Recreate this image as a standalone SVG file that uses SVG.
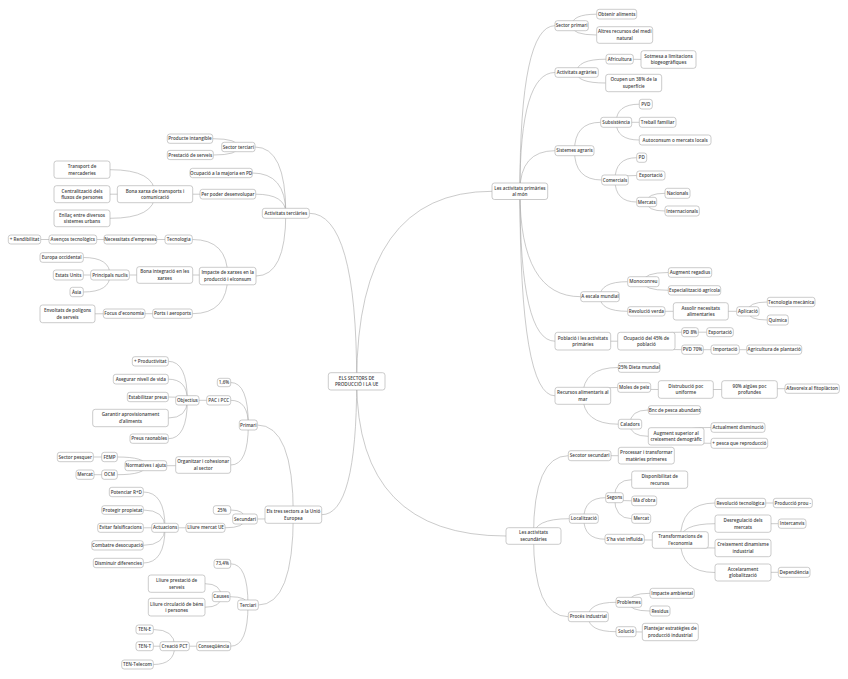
<svg xmlns="http://www.w3.org/2000/svg" width="848" height="679" viewBox="0 0 848 679">
<style>
.b{fill:#fff;stroke:#a8a8a8;stroke-width:0.6}
.t{font-family:"Open Sans","Liberation Sans",sans-serif;font-size:4.6px;font-weight:600;fill:#444;text-anchor:middle}
.c{fill:none;stroke:#a8a8a8;stroke-width:0.6}
</style>
<rect width="848" height="679" fill="#fff"/>
<g id="connectors" class="c">
<path d="M356.7,381.3 Q356.7,191.3 492,191.3"/>
<path d="M356.7,381.3 Q356.7,536 506,536"/>
<path d="M356.7,381.3 Q356.7,213.3 309.3,213.3"/>
<path d="M356.7,381.3 Q356.7,514.7 321.7,514.7"/>
<path d="M285.8,213.3 Q285.8,147 255,147"/>
<path d="M285.8,213.3 Q285.8,173 252.3,173"/>
<path d="M285.8,213.3 Q285.8,194.2 255.7,194.2"/>
<path d="M285.8,213.3 Q285.8,276 256,276"/>
<path d="M238.4,147 Q238.4,138.7 212.7,138.7"/>
<path d="M238.4,147 Q238.4,155 213.3,155"/>
<path d="M227.9,194.2 L192.7,194.2"/>
<path d="M155,194.2 Q155,169.7 110,169.7"/>
<path d="M155,194.2 L110,194.2"/>
<path d="M155,194.2 Q155,218.3 110,218.3"/>
<path d="M227.7,276 Q227.7,239.5 192.3,239.5"/>
<path d="M227.7,276 Q227.7,275 192.7,275"/>
<path d="M227.7,276 Q227.7,313.7 192.3,313.7"/>
<path d="M178.7,239.5 L156.7,239.5"/>
<path d="M130.4,239.5 L96.7,239.5"/>
<path d="M72.9,239.5 L40.7,239.5"/>
<path d="M164.7,275 L129.3,275"/>
<path d="M110,275 Q110,257.5 83.3,257.5"/>
<path d="M110,275 L83.3,275"/>
<path d="M110,275 Q110,292 83.3,292"/>
<path d="M172.5,313.7 L145,313.7"/>
<path d="M124.2,313.7 L95,313.8"/>
<path d="M293.3,514.7 Q293.3,425 257.3,425"/>
<path d="M293.3,514.7 Q293.3,519 257.3,519"/>
<path d="M293.3,514.7 Q293.3,605 258.3,605"/>
<path d="M248.3,425 Q248.3,382.5 230.7,382.5"/>
<path d="M248.3,425 Q248.3,400.3 230.7,400.3"/>
<path d="M248.3,425 Q248.3,465 230.7,465"/>
<path d="M218.7,400.3 L199,400.3"/>
<path d="M187.3,400.3 Q187.3,361.3 168.3,361.3"/>
<path d="M187.3,400.3 Q187.3,379.2 168.3,379.2"/>
<path d="M187.3,400.3 Q187.3,397 168.3,397"/>
<path d="M187.3,400.3 Q187.3,418 168.3,418"/>
<path d="M187.3,400.3 Q187.3,438.7 168.3,438.7"/>
<path d="M203.2,465 Q203.2,465.7 166.7,465.7"/>
<path d="M145.8,465.7 Q145.8,457 117.3,457"/>
<path d="M145.8,465.7 Q145.8,474.7 117.3,474.7"/>
<path d="M109.5,457 L93.3,457"/>
<path d="M109.5,474.7 L94,474.7"/>
<path d="M245,519 Q245,510 230.7,510"/>
<path d="M245,519 Q245,527.8 225,527.8"/>
<path d="M205.5,527.8 L178.3,527.8"/>
<path d="M165,527.8 Q165,492 143.3,492"/>
<path d="M165,527.8 Q165,510 143.3,510"/>
<path d="M165,527.8 L143.3,527.8"/>
<path d="M165,527.8 Q165,545.3 143.3,545.3"/>
<path d="M165,527.8 Q165,563 143.3,563"/>
<path d="M248,605 Q248,563.8 230.7,563.8"/>
<path d="M248,605 Q248,596.7 230,596.7"/>
<path d="M248,605 Q248,646.2 230.7,646.2"/>
<path d="M221.2,596.7 Q221.2,583.7 205,583.7"/>
<path d="M221.2,596.7 Q221.2,607.2 205,607.2"/>
<path d="M213.7,646.2 L189.3,646.2"/>
<path d="M174.7,646.2 Q174.7,629.5 153.3,629.5"/>
<path d="M174.7,646.2 L153.3,646.2"/>
<path d="M174.7,646.2 Q174.7,664.5 153.3,664.5"/>
<path d="M519.9,191.3 Q519.9,25.7 555,25.7"/>
<path d="M519.9,191.3 Q519.9,72.5 555,72.5"/>
<path d="M519.9,191.3 Q519.9,150.7 555,150.7"/>
<path d="M519.9,191.3 Q519.9,296.7 580.7,296.7"/>
<path d="M519.9,191.3 Q519.9,341.2 555,341.2"/>
<path d="M519.9,191.3 Q519.9,395.8 555,395.8"/>
<path d="M571.7,25.7 Q571.7,14.2 596.7,14.2"/>
<path d="M571.7,25.7 Q571.7,35 596.7,35"/>
<path d="M576.7,72.5 Q576.7,59.2 606,59.2"/>
<path d="M576.7,72.5 Q576.7,83 605.7,83"/>
<path d="M619.7,59.2 L641,59.4"/>
<path d="M574.5,150.7 Q574.5,122.3 600.7,122.3"/>
<path d="M574.5,150.7 Q574.5,180 601.7,180"/>
<path d="M616.2,122.3 Q616.2,104.2 639.3,104.2"/>
<path d="M616.2,122.3 L639.3,122.3"/>
<path d="M616.2,122.3 Q616.2,140 639.3,140"/>
<path d="M615,180 Q615,157.7 636.7,157.7"/>
<path d="M615,180 Q615,175.5 636.7,175.5"/>
<path d="M615,180 Q615,202 636.7,202"/>
<path d="M646.7,202 Q646.7,193.3 665,193.3"/>
<path d="M646.7,202 Q646.7,211 665,211"/>
<path d="M600,296.7 Q600,281.7 627.7,281.7"/>
<path d="M600,296.7 Q600,311.3 627.7,311.3"/>
<path d="M643.3,281.7 Q643.3,272.5 668.3,272.5"/>
<path d="M643.3,281.7 Q643.3,290.3 668.3,290.3"/>
<path d="M646.3,311.3 L673.3,311.3"/>
<path d="M700.8,311.3 L736.7,311.3"/>
<path d="M747.8,311.3 Q747.8,302 767.3,302"/>
<path d="M747.8,311.3 Q747.8,320 767.3,320"/>
<path d="M582.8,341.2 L617.7,341.2"/>
<path d="M646.3,341.2 Q646.3,332.2 681.7,332.2"/>
<path d="M646.3,341.2 Q646.3,349.7 681.7,349.7"/>
<path d="M690,332.2 L706.7,332.2"/>
<path d="M692.5,349.7 L711,349.7"/>
<path d="M725.2,349.7 L746.7,349.7"/>
<path d="M582.8,395.8 Q582.8,367.5 618.3,367.5"/>
<path d="M582.8,395.8 Q582.8,387.5 617.7,387.5"/>
<path d="M582.8,395.8 Q582.8,424.2 618.3,424.2"/>
<path d="M634.2,387.5 Q634.2,389.5 658.3,389.5"/>
<path d="M685.8,389.5 L721.7,389.5"/>
<path d="M749.5,389.5 Q749.5,388.7 785,388.7"/>
<path d="M630,424.2 Q630,410 648.3,410"/>
<path d="M630,424.2 Q630,436.3 648.3,436.3"/>
<path d="M676.2,436.3 Q676.2,427.5 711,427.5"/>
<path d="M676.2,436.3 Q676.2,443.3 711,443.3"/>
<path d="M533.5,536 Q533.5,455.7 568.3,455.7"/>
<path d="M533.5,536 Q533.5,518.7 569.3,518.7"/>
<path d="M533.5,536 Q533.5,616.7 568.3,616.7"/>
<path d="M589.7,455.7 L618.3,455.7"/>
<path d="M583.8,518.7 Q583.8,497.7 605.7,497.7"/>
<path d="M583.8,518.7 Q583.8,539.2 605,539.2"/>
<path d="M614.5,497.7 Q614.5,479.7 631.7,479.7"/>
<path d="M614.5,497.7 Q614.5,500.8 631.7,500.8"/>
<path d="M614.5,497.7 Q614.5,518.7 631.7,518.7"/>
<path d="M624.7,539.2 Q624.7,540 652.3,540"/>
<path d="M680.3,540 Q680.3,503 715,503"/>
<path d="M680.3,540 Q680.3,523.7 715,523.7"/>
<path d="M680.3,540 Q680.3,548 715,548"/>
<path d="M680.3,540 Q680.3,572.5 715,572.5"/>
<path d="M740.3,503 L773.3,503"/>
<path d="M743,523.7 L778.3,523.7"/>
<path d="M743,572.5 L778.3,572.3"/>
<path d="M588.3,616.7 Q588.3,602.3 616,602.3"/>
<path d="M588.3,616.7 Q588.3,631.7 616,631.7"/>
<path d="M628.8,602.3 Q628.8,593.3 650,593.3"/>
<path d="M628.8,602.3 Q628.8,611 650,611"/>
<path d="M626,631.7 L642.3,632"/>
</g>
<g id="center"><rect class="b" x="328.3" y="372.7" width="56.7" height="17.3" rx="2.5"/><text class="t"><tspan x="356.65" y="379.7">ELS SECTORS DE</tspan><tspan x="356.65" y="386.2">PRODUCCIÓ I LA UE</tspan></text></g>
<g id="terc"><rect class="b" x="262.3" y="208.3" width="47" height="10" rx="2.5"/><text class="t" x="285.8" y="214.9">Activitats terciàries</text></g>
<g id="sterc"><rect class="b" x="221.7" y="142.3" width="33.3" height="9.4" rx="2.5"/><text class="t" x="238.35" y="148.6">Sector terciari</text></g>
<g id="prod"><rect class="b" x="167.3" y="134" width="45.4" height="9.3" rx="2.5"/><text class="t" x="190" y="140.25">Producte intangible</text></g>
<g id="prest"><rect class="b" x="167.3" y="150.4" width="46" height="9.2" rx="2.5"/><text class="t" x="190.3" y="156.6">Prestació de serveis</text></g>
<g id="ocup"><rect class="b" x="190" y="168.3" width="62.3" height="9.4" rx="2.5"/><text class="t" x="221.15" y="174.6">Ocupació a la majoria en PD</text></g>
<g id="perpoder"><rect class="b" x="200" y="189.3" width="55.7" height="9.7" rx="2.5"/><text class="t" x="227.85" y="195.75">Per poder desenvolupar</text></g>
<g id="bona"><rect class="b" x="117.3" y="185.7" width="75.4" height="17" rx="2.5"/><text class="t"><tspan x="155" y="192.55">Bona xarxa de transports i</tspan><tspan x="155" y="199.05">comunicació</tspan></text></g>
<g id="transp"><rect class="b" x="54" y="161" width="56" height="17.3" rx="2.5"/><text class="t"><tspan x="82" y="168">Transport de</tspan><tspan x="82" y="174.5">mercaderies</tspan></text></g>
<g id="centr"><rect class="b" x="54" y="185.7" width="56" height="17" rx="2.5"/><text class="t"><tspan x="82" y="192.55">Centralització dels</tspan><tspan x="82" y="199.05">fluxos de persones</tspan></text></g>
<g id="enll"><rect class="b" x="54" y="210" width="56" height="16.7" rx="2.5"/><text class="t"><tspan x="82" y="216.7">Enllaç entre diversos</tspan><tspan x="82" y="223.2">sistemes urbans</tspan></text></g>
<g id="impacte"><rect class="b" x="199.3" y="267.3" width="56.7" height="17.5" rx="2.5"/><text class="t"><tspan x="227.65" y="274.4">Impacte de xarxes en la</tspan><tspan x="227.65" y="280.9">producció i elconsum</tspan></text></g>
<g id="tecno"><rect class="b" x="165" y="235" width="27.3" height="9" rx="2.5"/><text class="t" x="178.65" y="241.1">Tecnologia</text></g>
<g id="necess"><rect class="b" x="104" y="235" width="52.7" height="9" rx="2.5"/><text class="t" x="130.35" y="241.1">Necessitats d'empreses</text></g>
<g id="avenc"><rect class="b" x="49" y="235" width="47.7" height="9" rx="2.5"/><text class="t" x="72.85" y="241.1">Avenços tecnològics</text></g>
<g id="rend"><rect class="b" x="8.3" y="235" width="32.4" height="9" rx="2.5"/><text class="t" x="24.5" y="241.1">+ Rendibilitat</text></g>
<g id="bonaint"><rect class="b" x="136.7" y="266.7" width="56" height="16.6" rx="2.5"/><text class="t"><tspan x="164.7" y="273.35">Bona integració en les</tspan><tspan x="164.7" y="279.85">xarxes</tspan></text></g>
<g id="nuclis"><rect class="b" x="90.7" y="270" width="38.6" height="10" rx="2.5"/><text class="t" x="110" y="276.6">Principals nuclis</text></g>
<g id="europa"><rect class="b" x="40" y="252.7" width="43.3" height="9.6" rx="2.5"/><text class="t" x="61.65" y="259.1">Europa occidental</text></g>
<g id="eua"><rect class="b" x="53.3" y="270" width="30" height="10" rx="2.5"/><text class="t" x="68.3" y="276.6">Estats Units</text></g>
<g id="asia"><rect class="b" x="70" y="287.3" width="13.3" height="9.4" rx="2.5"/><text class="t" x="76.65" y="293.6">Àsia</text></g>
<g id="ports"><rect class="b" x="152.7" y="309" width="39.6" height="9.3" rx="2.5"/><text class="t" x="172.5" y="315.25">Ports i aeroports</text></g>
<g id="focus"><rect class="b" x="103.3" y="309" width="41.7" height="9.3" rx="2.5"/><text class="t" x="124.15" y="315.25">Focus d'economia</text></g>
<g id="envolt"><rect class="b" x="40" y="305" width="55" height="17.7" rx="2.5"/><text class="t"><tspan x="67.5" y="312.2">Envoltats de polígons</tspan><tspan x="67.5" y="318.7">de serveis</tspan></text></g>
<g id="tres"><rect class="b" x="265" y="506" width="56.7" height="17.3" rx="2.5"/><text class="t"><tspan x="293.35" y="513">Els tres sectors a la Unió</tspan><tspan x="293.35" y="519.5">Europea</tspan></text></g>
<g id="primari"><rect class="b" x="239.3" y="420" width="18" height="10" rx="2.5"/><text class="t" x="248.3" y="426.6">Primari</text></g>
<g id="n16"><rect class="b" x="217.3" y="378.3" width="13.4" height="8.4" rx="2.5"/><text class="t" x="224" y="384.1">1,6%</text></g>
<g id="pac"><rect class="b" x="206.7" y="395.7" width="24" height="9.3" rx="2.5"/><text class="t" x="218.7" y="401.95">PAC i PCC</text></g>
<g id="obj"><rect class="b" x="175.7" y="395.7" width="23.3" height="9.3" rx="2.5"/><text class="t" x="187.35" y="401.95">Objectius</text></g>
<g id="productiv"><rect class="b" x="132.3" y="356.7" width="36" height="9.3" rx="2.5"/><text class="t" x="150.3" y="362.95">+ Productivitat</text></g>
<g id="aseg"><rect class="b" x="113.3" y="374.3" width="55" height="9.7" rx="2.5"/><text class="t" x="140.8" y="380.75">Asegurar nivell de vida</text></g>
<g id="estab"><rect class="b" x="127.3" y="392.3" width="41" height="9.4" rx="2.5"/><text class="t" x="147.8" y="398.6">Estabilitzar preus</text></g>
<g id="garant"><rect class="b" x="92.7" y="409.3" width="75.6" height="17.4" rx="2.5"/><text class="t"><tspan x="130.5" y="416.35">Garantir aprovisionament</tspan><tspan x="130.5" y="422.85">d'aliments</tspan></text></g>
<g id="preus"><rect class="b" x="130" y="434" width="38.3" height="9.3" rx="2.5"/><text class="t" x="149.15" y="440.25">Preus raonables</text></g>
<g id="organ"><rect class="b" x="175.7" y="456.7" width="55" height="16.6" rx="2.5"/><text class="t"><tspan x="203.2" y="463.35">Organitzar i cohesionar</tspan><tspan x="203.2" y="469.85">al sector</tspan></text></g>
<g id="norm"><rect class="b" x="125" y="460.7" width="41.7" height="10" rx="2.5"/><text class="t" x="145.85" y="467.3">Normatives i ajuts</text></g>
<g id="femp"><rect class="b" x="101.7" y="452.3" width="15.6" height="9.4" rx="2.5"/><text class="t" x="109.5" y="458.6">FEMP</text></g>
<g id="pesq"><rect class="b" x="57.3" y="452.3" width="36" height="9.4" rx="2.5"/><text class="t" x="75.3" y="458.6">Sector pesquer</text></g>
<g id="ocm"><rect class="b" x="101.7" y="470" width="15.6" height="9.3" rx="2.5"/><text class="t" x="109.5" y="476.25">OCM</text></g>
<g id="mercat1"><rect class="b" x="76" y="470" width="18" height="9.3" rx="2.5"/><text class="t" x="85" y="476.25">Mercat</text></g>
<g id="secund"><rect class="b" x="232.7" y="514" width="24.6" height="10" rx="2.5"/><text class="t" x="245" y="520.6">Secundari</text></g>
<g id="n25"><rect class="b" x="213.3" y="505.7" width="17.4" height="8.6" rx="2.5"/><text class="t" x="222" y="511.6">25%</text></g>
<g id="lliure"><rect class="b" x="186" y="523.3" width="39" height="9" rx="2.5"/><text class="t" x="205.5" y="529.4">Lliure mercat UE</text></g>
<g id="actu"><rect class="b" x="151.7" y="523.3" width="26.6" height="9" rx="2.5"/><text class="t" x="165" y="529.4">Actuacions</text></g>
<g id="poten"><rect class="b" x="109.3" y="487.3" width="34" height="9.4" rx="2.5"/><text class="t" x="126.3" y="493.6">Potenciar R+D</text></g>
<g id="proteg"><rect class="b" x="101.7" y="505.7" width="41.6" height="8.6" rx="2.5"/><text class="t" x="122.5" y="511.6">Protegir propietat</text></g>
<g id="evitar"><rect class="b" x="97.7" y="523.3" width="45.6" height="9" rx="2.5"/><text class="t" x="120.5" y="529.4">Evitar falsificacions</text></g>
<g id="combat"><rect class="b" x="91.7" y="540.7" width="51.6" height="9.3" rx="2.5"/><text class="t" x="117.5" y="546.95">Combatre desocupació</text></g>
<g id="dismin"><rect class="b" x="93.3" y="558.3" width="50" height="9.4" rx="2.5"/><text class="t" x="118.3" y="564.6">Disminuir diferencies</text></g>
<g id="terciari"><rect class="b" x="237.7" y="600" width="20.6" height="10" rx="2.5"/><text class="t" x="248" y="606.6">Terciari</text></g>
<g id="n734"><rect class="b" x="214" y="559.3" width="16.7" height="9" rx="2.5"/><text class="t" x="222.35" y="565.4">73,4%</text></g>
<g id="causes"><rect class="b" x="212.3" y="591.7" width="17.7" height="10" rx="2.5"/><text class="t" x="221.15" y="598.3">Causes</text></g>
<g id="lprest"><rect class="b" x="148.3" y="575" width="56.7" height="17.3" rx="2.5"/><text class="t"><tspan x="176.65" y="582">Lliure prestació de</tspan><tspan x="176.65" y="588.5">serveis</tspan></text></g>
<g id="lcirc"><rect class="b" x="148.3" y="598.3" width="56.7" height="17.7" rx="2.5"/><text class="t"><tspan x="176.65" y="605.5">Lliure circulació de béns</tspan><tspan x="176.65" y="612">i persones</tspan></text></g>
<g id="conseq"><rect class="b" x="196.7" y="641.7" width="34" height="9" rx="2.5"/><text class="t" x="213.7" y="647.8">Conseqüència</text></g>
<g id="pct"><rect class="b" x="160" y="641.7" width="29.3" height="9" rx="2.5"/><text class="t" x="174.65" y="647.8">Creació PCT</text></g>
<g id="tene"><rect class="b" x="136" y="625" width="17.3" height="9" rx="2.5"/><text class="t" x="144.65" y="631.1">TEN-E</text></g>
<g id="tent"><rect class="b" x="136" y="641.7" width="17.3" height="9" rx="2.5"/><text class="t" x="144.65" y="647.8">TEN-T</text></g>
<g id="tentel"><rect class="b" x="121.7" y="660" width="31.6" height="9" rx="2.5"/><text class="t" x="137.5" y="666.1">TEN-Telecom</text></g>
<g id="prim"><rect class="b" x="492" y="183" width="55.7" height="16.5" rx="2.5"/><text class="t"><tspan x="519.85" y="189.6">Les activitats primàries</tspan><tspan x="519.85" y="196.1">al món</tspan></text></g>
<g id="secprim"><rect class="b" x="555" y="20.7" width="33.3" height="10" rx="2.5"/><text class="t" x="571.65" y="27.3">Sector primari</text></g>
<g id="obten"><rect class="b" x="596.7" y="9.3" width="40" height="9.7" rx="2.5"/><text class="t" x="616.7" y="15.75">Obtenir aliments</text></g>
<g id="altres"><rect class="b" x="596.7" y="26.7" width="56" height="16.6" rx="2.5"/><text class="t"><tspan x="624.7" y="33.35">Altres recursos del medi</tspan><tspan x="624.7" y="39.85">natural</tspan></text></g>
<g id="agr"><rect class="b" x="555" y="67.7" width="43.3" height="9.6" rx="2.5"/><text class="t" x="576.65" y="74.1">Activitats agràries</text></g>
<g id="afric"><rect class="b" x="606" y="54.3" width="27.3" height="9.7" rx="2.5"/><text class="t" x="619.65" y="60.75">Africultura</text></g>
<g id="sotm"><rect class="b" x="641" y="50.7" width="55" height="17.6" rx="2.5"/><text class="t"><tspan x="668.5" y="57.85">Sotmesa a limitacions</tspan><tspan x="668.5" y="64.35">biogeogràfiques</tspan></text></g>
<g id="ocupen"><rect class="b" x="605.7" y="74.3" width="56" height="17.4" rx="2.5"/><text class="t"><tspan x="633.7" y="81.35">Ocupen un 38% de la</tspan><tspan x="633.7" y="87.85">superfície</tspan></text></g>
<g id="sist"><rect class="b" x="555" y="145.7" width="39" height="10" rx="2.5"/><text class="t" x="574.5" y="152.3">Sistemes agraris</text></g>
<g id="subs"><rect class="b" x="600.7" y="117.3" width="31" height="10" rx="2.5"/><text class="t" x="616.2" y="123.9">Subsistència</text></g>
<g id="pvd"><rect class="b" x="639.3" y="99.3" width="13" height="9.7" rx="2.5"/><text class="t" x="645.8" y="105.75">PVD</text></g>
<g id="treb"><rect class="b" x="639.3" y="117.3" width="36.7" height="10" rx="2.5"/><text class="t" x="657.65" y="123.9">Treball familiar</text></g>
<g id="auto"><rect class="b" x="639.3" y="135" width="71.7" height="10" rx="2.5"/><text class="t" x="675.15" y="141.6">Autoconsum o mercats locals</text></g>
<g id="comerc"><rect class="b" x="601.7" y="175" width="26.6" height="10" rx="2.5"/><text class="t" x="615" y="181.6">Comercials</text></g>
<g id="pd"><rect class="b" x="636.7" y="153" width="10" height="9.3" rx="2.5"/><text class="t" x="641.7" y="159.25">PD</text></g>
<g id="export1"><rect class="b" x="636.7" y="171" width="28.3" height="9" rx="2.5"/><text class="t" x="650.85" y="177.1">Exportació</text></g>
<g id="mercats"><rect class="b" x="636.7" y="197.3" width="20" height="9.4" rx="2.5"/><text class="t" x="646.7" y="203.6">Mercats</text></g>
<g id="nacion"><rect class="b" x="665" y="188.3" width="25" height="10" rx="2.5"/><text class="t" x="677.5" y="194.9">Nacionals</text></g>
<g id="intern"><rect class="b" x="665" y="206" width="34.3" height="10" rx="2.5"/><text class="t" x="682.15" y="212.6">Internacionals</text></g>
<g id="escala"><rect class="b" x="580.7" y="291.7" width="38.6" height="10" rx="2.5"/><text class="t" x="600" y="298.3">A escala mundial</text></g>
<g id="mono"><rect class="b" x="627.7" y="276.7" width="31.3" height="10" rx="2.5"/><text class="t" x="643.35" y="283.3">Monoconreu</text></g>
<g id="augreg"><rect class="b" x="668.3" y="267.7" width="43.4" height="9.6" rx="2.5"/><text class="t" x="690" y="274.1">Augment regadius</text></g>
<g id="espec"><rect class="b" x="668.3" y="285.7" width="52.4" height="9.3" rx="2.5"/><text class="t" x="694.5" y="291.95">Especialització agrícola</text></g>
<g id="revver"><rect class="b" x="627.7" y="306.7" width="37.3" height="9.3" rx="2.5"/><text class="t" x="646.35" y="312.95">Revolució verda</text></g>
<g id="assol"><rect class="b" x="673.3" y="302.7" width="55" height="17.3" rx="2.5"/><text class="t"><tspan x="700.8" y="309.7">Assolir necesitats</tspan><tspan x="700.8" y="316.2">alimentaries</tspan></text></g>
<g id="aplic"><rect class="b" x="736.7" y="306.7" width="22.3" height="9.3" rx="2.5"/><text class="t" x="747.85" y="312.95">Aplicació</text></g>
<g id="tecmec"><rect class="b" x="767.3" y="297.3" width="47.7" height="9.4" rx="2.5"/><text class="t" x="791.15" y="303.6">Tecnologia mecànica</text></g>
<g id="quim"><rect class="b" x="767.3" y="315" width="21" height="10" rx="2.5"/><text class="t" x="777.8" y="321.6">Química</text></g>
<g id="pobl"><rect class="b" x="555" y="332.3" width="55.7" height="17.7" rx="2.5"/><text class="t"><tspan x="582.85" y="339.5">Població i les activitats</tspan><tspan x="582.85" y="346">primàries</tspan></text></g>
<g id="ocup45"><rect class="b" x="617.7" y="332.3" width="57.3" height="17.7" rx="2.5"/><text class="t"><tspan x="646.35" y="339.5">Ocupació del 45% de</tspan><tspan x="646.35" y="346">població</tspan></text></g>
<g id="pd8"><rect class="b" x="681.7" y="327.7" width="16.6" height="9" rx="2.5"/><text class="t" x="690" y="333.8">PD 8%</text></g>
<g id="export2"><rect class="b" x="706.7" y="327.7" width="26.6" height="9" rx="2.5"/><text class="t" x="720" y="333.8">Exportació</text></g>
<g id="pvd70"><rect class="b" x="681.7" y="345" width="21.6" height="9.3" rx="2.5"/><text class="t" x="692.5" y="351.25">PVD 70%</text></g>
<g id="import"><rect class="b" x="711" y="345" width="28.3" height="9.3" rx="2.5"/><text class="t" x="725.15" y="351.25">Importació</text></g>
<g id="agrplant"><rect class="b" x="746.7" y="345" width="55" height="9.3" rx="2.5"/><text class="t" x="774.2" y="351.25">Agricultura de plantació</text></g>
<g id="recur"><rect class="b" x="555" y="387.3" width="55.7" height="17" rx="2.5"/><text class="t"><tspan x="582.85" y="394.15">Recursos alimentaris al</tspan><tspan x="582.85" y="400.65">mar</tspan></text></g>
<g id="dieta"><rect class="b" x="618.3" y="362.7" width="41.7" height="9.6" rx="2.5"/><text class="t" x="639.15" y="369.1">25% Dieta mundial</text></g>
<g id="moles"><rect class="b" x="617.7" y="382.7" width="33" height="9.6" rx="2.5"/><text class="t" x="634.2" y="389.1">Moles de peix</text></g>
<g id="distr"><rect class="b" x="658.3" y="380.7" width="55" height="17.6" rx="2.5"/><text class="t"><tspan x="685.8" y="387.85">Distrubució poc</tspan><tspan x="685.8" y="394.35">uniforme</tspan></text></g>
<g id="n90"><rect class="b" x="721.7" y="380.7" width="55.6" height="17.6" rx="2.5"/><text class="t"><tspan x="749.5" y="387.85">90% aigües poc</tspan><tspan x="749.5" y="394.35">profundes</tspan></text></g>
<g id="afav"><rect class="b" x="785" y="384" width="54.3" height="9.3" rx="2.5"/><text class="t" x="812.15" y="390.25">Afavoreix al fitoplàcton</text></g>
<g id="calad"><rect class="b" x="618.3" y="419.3" width="23.4" height="9.7" rx="2.5"/><text class="t" x="630" y="425.75">Caladors</text></g>
<g id="bnc"><rect class="b" x="648.3" y="405.7" width="52.4" height="8.6" rx="2.5"/><text class="t" x="674.5" y="411.6">Bnc de pesca abundant</text></g>
<g id="augsup"><rect class="b" x="648.3" y="427.7" width="55.7" height="17.3" rx="2.5"/><text class="t"><tspan x="676.15" y="434.7">Augment superior al</tspan><tspan x="676.15" y="441.2">creixement demogràfic</tspan></text></g>
<g id="actual"><rect class="b" x="711" y="422.7" width="54" height="9.6" rx="2.5"/><text class="t" x="738" y="429.1">Actualment disminució</text></g>
<g id="mespesca"><rect class="b" x="711" y="438.3" width="56.7" height="10" rx="2.5"/><text class="t" x="739.35" y="444.9">+ pesca que reproducció</text></g>
<g id="secund2"><rect class="b" x="506" y="527.7" width="55" height="16.6" rx="2.5"/><text class="t"><tspan x="533.5" y="534.35">Les activitats</tspan><tspan x="533.5" y="540.85">secundàries</tspan></text></g>
<g id="secotor"><rect class="b" x="568.3" y="450.7" width="42.7" height="10" rx="2.5"/><text class="t" x="589.65" y="457.3">Secotor secundari</text></g>
<g id="proces"><rect class="b" x="618.3" y="447.3" width="56" height="16.7" rx="2.5"/><text class="t"><tspan x="646.3" y="454">Processar i transformar</tspan><tspan x="646.3" y="460.5">matèries primeres</tspan></text></g>
<g id="local"><rect class="b" x="569.3" y="514" width="29" height="9.3" rx="2.5"/><text class="t" x="583.8" y="520.25">Localització</text></g>
<g id="segons"><rect class="b" x="605.7" y="492.7" width="17.6" height="10" rx="2.5"/><text class="t" x="614.5" y="499.3">Segons</text></g>
<g id="disp"><rect class="b" x="631.7" y="471" width="56" height="17.3" rx="2.5"/><text class="t"><tspan x="659.7" y="478">Disponibilitat de</tspan><tspan x="659.7" y="484.5">recursos</tspan></text></g>
<g id="ma"><rect class="b" x="631.7" y="496" width="25" height="9.7" rx="2.5"/><text class="t" x="644.2" y="502.45">Mà d'obra</text></g>
<g id="merc2"><rect class="b" x="631.7" y="514" width="19" height="9.3" rx="2.5"/><text class="t" x="641.2" y="520.25">Mercat</text></g>
<g id="shavist"><rect class="b" x="605" y="534.3" width="39.3" height="9.7" rx="2.5"/><text class="t" x="624.65" y="540.75">S'ha vist influïda</text></g>
<g id="transf"><rect class="b" x="652.3" y="531.7" width="56" height="16.6" rx="2.5"/><text class="t"><tspan x="680.3" y="538.35">Transformacions de</tspan><tspan x="680.3" y="544.85">l'economia</tspan></text></g>
<g id="revtec"><rect class="b" x="715" y="498.3" width="50.7" height="9.4" rx="2.5"/><text class="t" x="740.35" y="504.6">Revolució tecnològica</text></g>
<g id="prou"><rect class="b" x="773.3" y="498.3" width="39" height="9.4" rx="2.5"/><text class="t" x="792.8" y="504.6">Producció prou -</text></g>
<g id="desreg"><rect class="b" x="715" y="515" width="56" height="17.3" rx="2.5"/><text class="t"><tspan x="743" y="522">Desregulació dels</tspan><tspan x="743" y="528.5">mercats</tspan></text></g>
<g id="interc"><rect class="b" x="778.3" y="519" width="27.7" height="9.3" rx="2.5"/><text class="t" x="792.15" y="525.25">Intercanvis</text></g>
<g id="creix"><rect class="b" x="715" y="539.3" width="56" height="17.4" rx="2.5"/><text class="t"><tspan x="743" y="546.35">Creixement dinamisme</tspan><tspan x="743" y="552.85">industrial</tspan></text></g>
<g id="accel"><rect class="b" x="715" y="564" width="56" height="17" rx="2.5"/><text class="t"><tspan x="743" y="570.85">Accelarament</tspan><tspan x="743" y="577.35">globalització</tspan></text></g>
<g id="depen"><rect class="b" x="778.3" y="567.3" width="31.7" height="10" rx="2.5"/><text class="t" x="794.15" y="573.9">Dependència</text></g>
<g id="procind"><rect class="b" x="568.3" y="611.7" width="40" height="10" rx="2.5"/><text class="t" x="588.3" y="618.3">Procés industrial</text></g>
<g id="probl"><rect class="b" x="616" y="597.3" width="25.7" height="10" rx="2.5"/><text class="t" x="628.85" y="603.9">Problemes</text></g>
<g id="impamb"><rect class="b" x="650" y="588.3" width="44.3" height="10" rx="2.5"/><text class="t" x="672.15" y="594.9">Impacte ambiental</text></g>
<g id="resid"><rect class="b" x="650" y="606" width="20" height="10" rx="2.5"/><text class="t" x="660" y="612.6">Residus</text></g>
<g id="soluc"><rect class="b" x="616" y="626.7" width="20" height="10" rx="2.5"/><text class="t" x="626" y="633.3">Solució</text></g>
<g id="plan"><rect class="b" x="642.3" y="623.3" width="56" height="17.4" rx="2.5"/><text class="t"><tspan x="670.3" y="630.35">Plantejar estratègies de</tspan><tspan x="670.3" y="636.85">producció industrial</tspan></text></g>
</svg>
